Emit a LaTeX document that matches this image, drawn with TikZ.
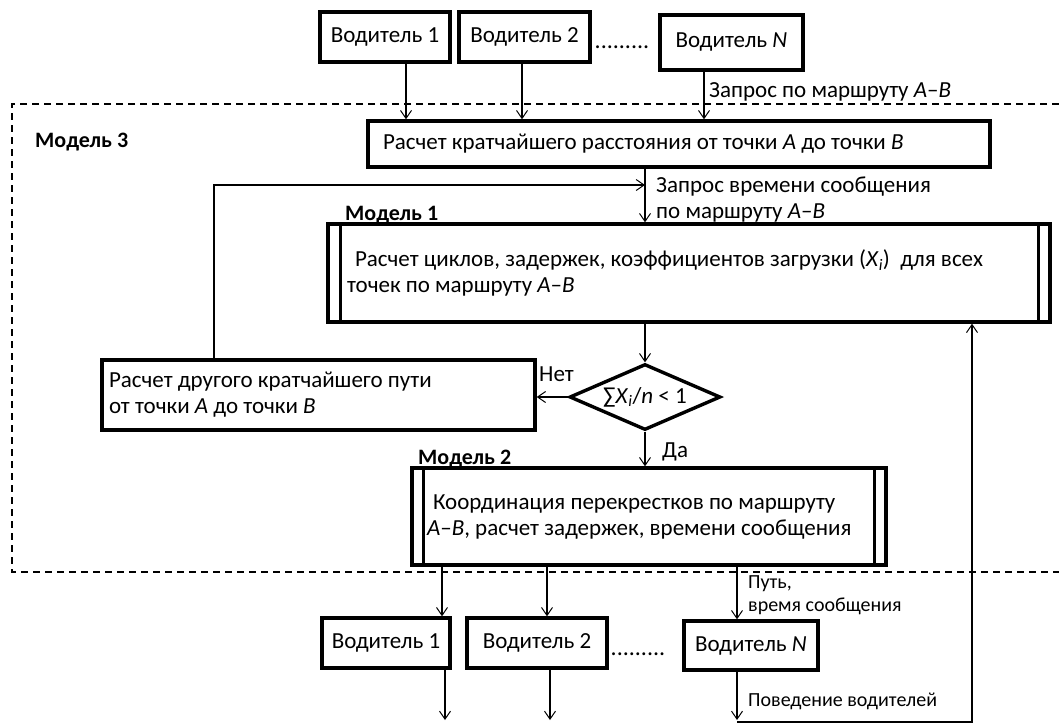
\documentclass[tikz,border=0pt]{standalone}
\usepackage{fontspec}
\setmainfont{Carlito}
\usetikzlibrary{arrows.meta,shapes.geometric}
\newcommand{\AB}{\textit{A}–\textit{B}}
\begin{document}
\begin{tikzpicture}[x=1pt,y=-1pt,
  every node/.style={inner sep=0pt, font=\fontsize{23}{26}\selectfont},
  drv/.style={draw, line width=3.4pt, minimum height=50pt, align=center},
  pbox/.style={draw, line width=3.4pt, align=left, execute at begin node={\spaceskip=0pt\xspaceskip=0pt\relax}},
  bar/.style={line width=3.4pt},
  arr/.style={line width=1.1pt, -{Straight Barb[length=8pt,width=11pt,line width=1pt]}},
  frame/.style={line width=1.6pt, dash pattern=on 7pt off 5pt},
  lab/.style={anchor=base west},
  smalllab/.style={font=\fontsize{20}{23}\selectfont},
  bold/.style={anchor=base west, font=\fontsize{22}{25}\selectfont\bfseries},
]
\useasboundingbox (0,0) rectangle (1059,724);

% top drivers
\node[drv, minimum width=130pt] (dT1) at (385,37) {Водитель 1};
\node[drv, minimum width=131pt] (dT2) at (524.5,37) {Водитель 2};
\node[anchor=base, font=\fontsize{24}{26}\selectfont] (dotT) at (622,48) {.........};
\node[drv, minimum width=143pt, minimum height=55pt] (dTN) at (731.5,42.5) {Водитель \textit{N}};

% model 3 frame
\draw[frame] (1059,104) -- (12,104) -- (12,572) -- (1059,572);
\node[bold] (m3) at (35,147) {Модель 3};

\node[pbox, minimum height=46pt, text width=592pt, inner xsep=15pt] (calc) at (679,144)
  {Расчет кратчайшего расстояния от точки \textit{A} до точки \textit{B}};

\node[pbox, minimum height=98pt, text width=684pt, inner xsep=19pt] (m1) at (689,273)
  {\hspace*{8pt}Расчет циклов, задержек, коэффициентов загрузки (\textit{X}\textsubscript{\textit{i}})\ \ для всех\\точек по маршруту \AB};
\draw[bar] ([xshift=14pt]m1.north west) -- ([xshift=14pt]m1.south west);
\draw[bar] ([xshift=-13pt]m1.north east) -- ([xshift=-13pt]m1.south east);
\node[bold] (lm1) at (345,220) {Модель 1};

\node[pbox, minimum height=70pt, text width=419pt, inner xsep=7pt] (other) at (318.5,395)
  {Расчет другого кратчайшего пути\\от точки \textit{A} до точки \textit{B}};

\node[draw, diamond, aspect=2.29, minimum width=151pt, minimum height=66pt, line width=3.4pt] (dia) at (645,397)
  {∑\textit{X}\textsubscript{\textit{i}}/\textit{n} < 1};

\node[pbox, minimum height=97pt, text width=444pt, inner xsep=15pt] (m2) at (649,516.5)
  {\hspace*{6pt}Координация перекрестков по маршруту\\\AB, расчет задержек, времени сообщения};
\draw[bar] ([xshift=13pt]m2.north west) -- ([xshift=13pt]m2.south west);
\draw[bar] ([xshift=-13pt]m2.north east) -- ([xshift=-13pt]m2.south east);
\node[bold] (lm2) at (418,464) {Модель 2};

% bottom drivers
\node[drv, minimum width=128pt] (dB1) at (386,643) {Водитель 1};
\node[drv, minimum width=140pt] (dB2) at (537,643) {Водитель 2};
\node[anchor=base, font=\fontsize{24}{26}\selectfont] (dotB) at (638,655) {.........};
\node[drv, minimum width=134pt, minimum height=49pt] (dBN) at (751,645.5) {Водитель \textit{N}};

% connectors
\draw[arr] (dT1.south -| 406,0) -- (calc.north -| 406,0);
\draw[arr] (dT2.south -| 522,0) -- (calc.north -| 522,0);
\draw[arr] (dTN.south -| 704,0) -- (calc.north -| 704,0);
\node[lab] (q1) at (709,97) {Запрос по маршруту \AB};

\draw[arr] (calc.south -| dia.north) -- (m1.north -| dia.north);
\coordinate (fb) at (dia.north |- 0,185);
\draw[arr] (other.north -| 214,0) -- (214,185) -- (fb);
\node[anchor=north west, align=left] (q2) at (656,177) {Запрос времени сообщения\\по маршруту \AB};

\draw[arr] (m1.south -| dia.north) -- (dia.north);
\draw[arr] (dia.west) -- (dia.west -| other.east);
\node[lab] (no) at (539,381) {Нет};
\draw[arr] (dia.south) -- (m2.north -| dia.south);
\node[lab] (yes) at (662,457) {Да};

\draw[arr] (m2.south -| 442,0) -- (dB1.north -| 442,0);
\draw[arr] (m2.south -| 547,0) -- (dB2.north -| 547,0);
\draw[arr] (m2.south -| 737,0) -- (dBN.north -| 737,0);
\node[anchor=north west, align=left, smalllab] (path) at (748,575) {Путь,\\время сообщения};

\coordinate (e1) at (445,720);
\coordinate (e2) at (550,720);
\coordinate (eN) at (737,720);
\draw[arr] (dB1.south -| e1) -- (e1);
\draw[arr] (dB2.south -| e2) -- (e2);
\draw[arr] (dBN.south -| eN) -- (eN);
\node[lab, smalllab] (beh) at (748,706) {Поведение водителей};
\coordinate (fbs) at (737,722);
\draw[arr] (fbs) -- (972,722) -- (m1.south -| 972,0);
\end{tikzpicture}
\end{document}
